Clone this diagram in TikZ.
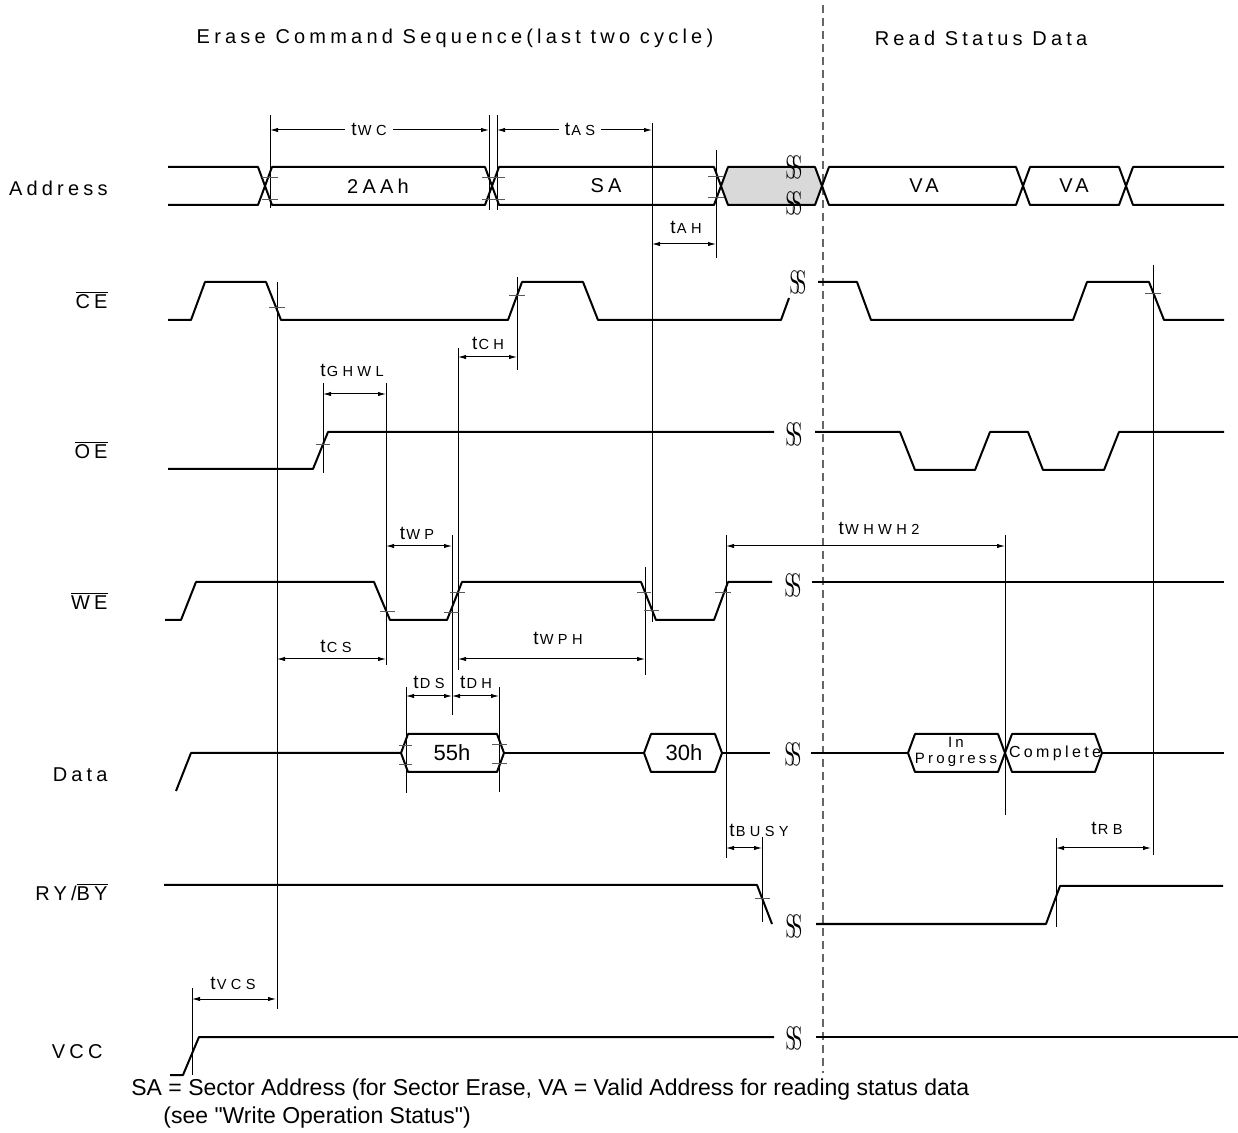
\documentclass[tikz,border=0pt]{standalone}
\usepackage{graphicx}
\usepackage{fontspec}
\setmainfont{Liberation Sans}
\newfontfamily\spaced[LetterSpace=21]{Liberation Sans}
\newfontfamily\subspaced[LetterSpace=30]{Liberation Sans}
\newfontfamily\brkfont{Latin Modern Roman}
\usetikzlibrary{arrows.meta}
\usetikzlibrary{positioning}

% timing name: big t, small wide caps
\newcommand{\tname}[1]{{\fontsize{9.5}{10}\selectfont t}\kern0.6pt{\subspaced\fontsize{7.3}{8}\selectfont #1}}
% break mark
\newcommand{\brk}{{\brkfont\fontsize{12}{12}\selectfont\scalebox{0.8}[1.35]{S\kern-0.22em S}}}

\tikzset{
  sig/.style={line width=1pt, line join=round},
  guide/.style={line width=0.4pt},
  dim/.style={line width=0.5pt, {Latex[length=4pt,width=2.2pt]}-{Latex[length=4pt,width=2.2pt]}},
  tick/.style={line width=0.4pt, black!65},
  lbl/.style={font=\spaced\fontsize{10}{12}\selectfont, inner sep=1pt},
  tlbl/.style={inner sep=1pt},
  brknode/.style={inner sep=0pt},
}

\begin{document}
\begin{tikzpicture}[x=0.5pt,y=-0.5pt]
\useasboundingbox (0,0) rectangle (1238,1133);

\coordinate (wc0) at (270,130);
\coordinate (wc1) at (489,130);
\coordinate (as0) at (497,130);
\coordinate (as1) at (652,130);
\coordinate (ah0) at (652,244);
\coordinate (ah1) at (716,244);
\coordinate (ch0) at (458,357);
\coordinate (ch1) at (517,357);
\coordinate (gh0) at (323,394);
\coordinate (gh1) at (386,394);
\coordinate (wp0) at (386,546);
\coordinate (wp1) at (452,546);
\coordinate (wh0) at (726,546);
\coordinate (wh1) at (1005,546);
\coordinate (cs0) at (277,659);
\coordinate (cs1) at (386,659);
\coordinate (wph0) at (458,659);
\coordinate (wph1) at (645,659);
\coordinate (ds0) at (406,696);
\coordinate (ds1) at (452,696);
\coordinate (dh0) at (452,696);
\coordinate (dh1) at (499,696);
\coordinate (by0) at (726,848);
\coordinate (by1) at (762,848);
\coordinate (rb0) at (1056,848);
\coordinate (rb1) at (1151,848);
\coordinate (vc0) at (192,999);
\coordinate (vc1) at (276,999);

% headings and split
\node[lbl] (hdErase) at (455,38) {Erase Command Sequence(last two cycle)};
\node[lbl] (hdRead) at (981,38) {Read Status Data};
\draw[black!60, line width=0.6pt, dash pattern=on 4pt off 2.5pt] (823,5) -- (823,1073);

% signal names
\node[lbl, anchor=east] (nAddr) at (110,188) {Address};
\node[lbl, anchor=east] (nCE) at (110,300) {$\overline{\mbox{CE}}$};
\node[lbl, anchor=east] (nOE) at (110,450) {$\overline{\mbox{OE}}$};
\node[lbl, anchor=east] (nWE) at (110,601) {$\overline{\mbox{WE}}$};
\node[lbl, anchor=east] (nData) at (110,775) {Data};
\node[lbl, anchor=east] (nRY) at (110,892) {RY/$\overline{\mbox{BY}}$};
\node[lbl, anchor=east] (nVCC) at (105,1052) {VCC};

% guides
\draw[guide] (270,115) -- (270,208);
\draw[guide] (489,115) -- (489,210);
\draw[guide] (497,115) -- (497,210);
\draw[guide] (652,123) -- (652,622);
\draw[guide] (716,150) -- (716,258);
\draw[guide] (277,282) -- (277,1009);
\draw[guide] (517,277) -- (517,370);
\draw[guide] (458,348) -- (458,670);
\draw[guide] (323,383) -- (323,473);
\draw[guide] (386,383) -- (386,665);
\draw[guide] (452,535) -- (452,715);
\draw[guide] (645,567) -- (645,675);
\draw[guide] (726,535) -- (726,858);
\draw[guide] (1005,535) -- (1005,815);
\draw[guide] (406,687) -- (406,793);
\draw[guide] (499,687) -- (499,792);
\draw[guide] (762,837) -- (762,922);
\draw[guide] (1056,838) -- (1056,927);
\draw[guide] (1153,265) -- (1153,855);
\draw[guide] (192,988) -- (192,1075);

% Address bus
\draw[sig] (168,167) -- (258,167) -- (265,186) -- (258,205) -- (168,205);
\draw[sig] (265,186) -- (272,167) -- (485,167) -- (492,186) -- (485,205) -- (272,205) -- cycle;
\draw[sig] (492,186) -- (499,167) -- (714,167) -- (721,186) -- (714,205) -- (499,205) -- cycle;
\draw[sig, fill=black!15] (721,186) -- (728,167) -- (815,167) -- (822,186) -- (815,205) -- (728,205) -- cycle;
\draw[sig] (822,186) -- (829,167) -- (1016,167) -- (1023,186) -- (1016,205) -- (829,205) -- cycle;
\draw[sig] (1023,186) -- (1030,167) -- (1119,167) -- (1126,186) -- (1119,205) -- (1030,205) -- cycle;
\draw[sig] (1224,167) -- (1133,167) -- (1126,186) -- (1133,205) -- (1224,205);
\node[lbl] (a2AA) at (378,186) {2AAh};
\node[lbl] (aSA) at (606,186) {SA};
\node[lbl] (aVA1) at (924,186) {VA};
\node[lbl] (aVA2) at (1074,186) {VA};
\node[brknode] (bA1) at (794,167) {\brk};
\node[brknode] (bA2) at (794,203) {\brk};

% CE
\draw[sig] (168,320) -- (191,320) -- (205,282) -- (266,282) -- (281,320) -- (508,320) -- (522,282) -- (583,282) -- (598,320) -- (781,320) -- (789,298);
\draw[sig] (818,282) -- (857,282) -- (871,320) -- (1073,320) -- (1087,282) -- (1149,282) -- (1164,320) -- (1224,320);
\node[brknode] (bCE) at (798,282) {\brk};

% OE
\draw[sig] (168,469) -- (313,469) -- (328,432) -- (774,432);
\draw[sig] (815,432) -- (900,432) -- (915,470) -- (975,470) -- (990,432) -- (1028,432) -- (1043,470) -- (1104,470) -- (1119,432) -- (1224,432);
\node[brknode] (bOE) at (794,434) {\brk};

% WE
\draw[sig] (165,620) -- (181,620) -- (196,582) -- (374,582) -- (390,620) -- (447,620) -- (462,582) -- (641,582) -- (656,620) -- (714,620) -- (728,582) -- (772,582);
\draw[sig] (812,582) -- (1224,582);
\node[brknode] (bWE) at (793,585) {\brk};

% Data
\draw[sig] (176,791) -- (191,753) -- (401,753);
\draw[sig] (401,753) -- (408,734) -- (497,734) -- (504,753) -- (497,772) -- (408,772) -- cycle;
\draw[sig] (504,753) -- (644,753);
\draw[sig] (644,753) -- (651,734) -- (715,734) -- (722,753) -- (715,772) -- (651,772) -- cycle;
\draw[sig] (722,753) -- (770,753);
\draw[sig] (811,753) -- (908,753);
\draw[sig] (908,753) -- (915,734) -- (998,734) -- (1005,753) -- (998,772) -- (915,772) -- cycle;
\draw[sig] (1005,753) -- (1012,734) -- (1095,734) -- (1102,753) -- (1095,772) -- (1012,772) -- cycle;
\draw[sig] (1102,753) -- (1224,753);
\node[lbl, font=\fontsize{11}{12}\selectfont] (d55) at (452,753) {55h};
\node[lbl, font=\fontsize{11}{12}\selectfont] (d30) at (684,753) {30h};
\node[lbl, font=\spaced\fontsize{7.5}{8}\selectfont, align=center] (dProg) at (956,752) {In\\Progress};
\node[lbl, font=\spaced\fontsize{8}{9}\selectfont] (dComp) at (1055,753) {Complete};
\node[brknode] (bData) at (793,754) {\brk};

% RY/BY
\draw[sig] (164,885) -- (757,885) -- (772,924);
\draw[sig] (816,924) -- (1046,924) -- (1060,886) -- (1223,886);
\node[brknode] (bRY) at (794,926) {\brk};

% VCC
\draw[sig] (170,1075) -- (183,1075) -- (199,1037) -- (774,1037);
\draw[sig] (816,1037) -- (1238,1037);
\node[brknode] (bVCC) at (794,1038) {\brk};

% ticks
\draw[tick] (262,177) -- (278,177);
\draw[tick] (262,199) -- (278,199);
\draw[tick] (482,177) -- (505,177);
\draw[tick] (482,199) -- (505,199);
\draw[tick] (708,176) -- (724,176);
\draw[tick] (708,197) -- (724,197);
\draw[tick] (269,307) -- (285,307);
\draw[tick] (509,295) -- (525,295);
\draw[tick] (1145,293) -- (1161,293);
\draw[tick] (316,444) -- (330,444);
\draw[tick] (380,611) -- (395,611);
\draw[tick] (444,612) -- (459,612);
\draw[tick] (450,592) -- (465,592);
\draw[tick] (637,592) -- (651,592);
\draw[tick] (644,610) -- (659,610);
\draw[tick] (715,592) -- (731,592);
\draw[tick] (399,745) -- (412,745);
\draw[tick] (399,764) -- (412,764);
\draw[tick] (492,744) -- (507,744);
\draw[tick] (492,763) -- (507,763);
\draw[tick] (755,898) -- (770,898);

% timing arrows
\draw[dim] (wc0) -- (wc1);
\draw[dim] (as0) -- (as1);
\draw[dim] (ah0) -- (ah1);
\draw[dim] (ch0) -- (ch1);
\draw[dim] (gh0) -- (gh1);
\draw[dim] (wp0) -- (wp1);
\draw[dim] (wh0) -- (wh1);
\draw[dim] (cs0) -- (cs1);
\draw[dim] (wph0) -- (wph1);
\draw[dim] (ds0) -- (ds1);
\draw[dim] (dh0) -- (dh1);
\draw[dim] (by0) -- (by1);
\draw[dim] (rb0) -- (rb1);
\draw[dim] (vc0) -- (vc1);

\node[tlbl, fill=white, inner sep=3pt] (lWC) at (369,129) {\tname{WC}};
\node[tlbl, fill=white, inner sep=3pt] (lAS) at (580,129) {\tname{AS}};
\node[tlbl] (lAH) at (686,227) {\tname{AH}};
\node[tlbl] (lCH) at (488,343) {\tname{CH}};
\node[tlbl] (lGHWL) at (352,370) {\tname{GHWL}};
\node[tlbl] (lWP) at (417,533) {\tname{WP}};
\node[tlbl] (lWHWH) at (879,528) {\tname{WHWH2}};
\node[tlbl] (lCS) at (336,646) {\tname{CS}};
\node[tlbl] (lWPH) at (558,638) {\tname{WPH}};
\node[tlbl] (lDS) at (429,682) {\tname{DS}};
\node[tlbl] (lDH) at (476,682) {\tname{DH}};
\node[tlbl] (lBUSY) at (759,830) {\tname{BUSY}};
\node[tlbl] (lRB) at (1107,828) {\tname{RB}};
\node[tlbl] (lVCS) at (233,983) {\tname{VCS}};

% note
\node[anchor=west, inner sep=0pt, font=\fontsize{11.5}{13}\selectfont] (note1) at (131,1090) {SA = Sector Address (for Sector Erase, VA = Valid Address for reading status data};
\node[anchor=west, inner sep=0pt, font=\fontsize{11.5}{13}\selectfont] (note2) at (163,1118) {(see \textquotedbl Write Operation Status\textquotedbl)};

\end{tikzpicture}
\end{document}
